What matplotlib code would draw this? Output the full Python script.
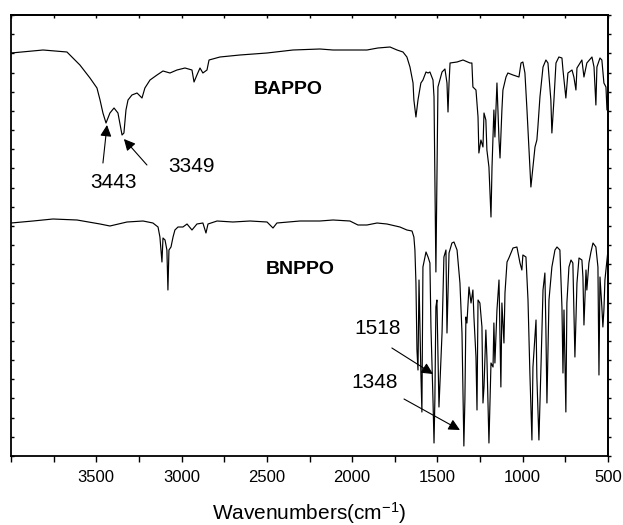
import numpy as np
import matplotlib.pyplot as plt
import matplotlib as mpl
from matplotlib.ticker import MultipleLocator, FixedLocator, NullFormatter

mpl.rc('font', family='Liberation Sans', size=12)
mpl.rc('mathtext', fontset='custom', rm='Liberation Sans', it='Liberation Sans')

# IR spectra, wavenumber (cm-1) vs transmittance (arbitrary units)
bappo_wn = [4000, 3812, 3672, 3596, 3537, 3496, 3478, 3461, 3443, 3420, 3396, 3373, 3349, 3338,
            3326, 3314, 3291, 3261, 3232, 3215, 3185, 3144, 3109, 3068, 3027, 2980, 2939, 2927,
            2910, 2892, 2875, 2851, 2839, 2775, 2658, 2499, 2347, 2189, 2112, 1913, 1849, 1778,
            1737, 1702, 1679, 1661, 1643, 1638, 1626, 1614, 1597, 1585, 1567, 1555, 1544, 1526,
            1520, 1509, 1497, 1473, 1456, 1444, 1438, 1432, 1426, 1385, 1350, 1309, 1298, 1292,
            1274, 1262, 1257, 1245, 1233, 1227, 1216, 1210, 1198, 1186, 1180, 1169, 1163, 1151,
            1139, 1133, 1122, 1116, 1098, 1087, 1057, 1022, 1010, 999, 987, 975, 958, 952, 940,
            928, 917, 911, 899, 881, 864, 852, 835, 829, 817, 805, 788, 770, 764, 747, 735, 711,
            700, 688, 682, 653, 641, 624, 594, 582, 571, 565, 547, 536, 524, 512, 506, 500]
bappo_t = [403, 406, 404, 391, 378, 368, 356, 343, 333, 343, 348, 343, 321, 323,
           346, 356, 361, 363, 358, 368, 376, 381, 385, 383, 386, 388, 386, 374,
           381, 388, 383, 386, 396, 399, 401, 403, 406, 407, 406, 406, 408, 409,
           406, 404, 399, 389, 373, 356, 339, 356, 373, 376, 384, 383, 384, 376,
           359, 184, 369, 384, 387, 373, 344, 373, 393, 394, 396, 393, 393, 369,
           366, 339, 303, 316, 309, 343, 336, 306, 289, 239, 289, 346, 319, 373,
           316, 298, 346, 366, 379, 383, 381, 379, 393, 394, 383, 346, 289, 269, 289,
           309, 316, 329, 359, 389, 396, 393, 356, 323, 356, 393, 399, 398, 386, 358, 383, 386,
           379, 366, 388, 396, 379, 393, 399, 389, 351, 389, 398, 396, 373, 369, 346, 350]

bnppo_wn = [4000, 3871, 3754, 3613, 3478, 3420, 3320, 3226, 3168, 3138, 3127, 3115, 3109, 3097,
            3086, 3080, 3074, 3062, 3050, 3039, 3021, 2992, 2968, 2939, 2910, 2875, 2857, 2845,
            2792, 2699, 2599, 2499, 2464, 2441, 2306, 2189, 2112, 2013, 1966, 1913, 1854, 1796,
            1720, 1679, 1649, 1638, 1632, 1626, 1620, 1614, 1608, 1597, 1591, 1585, 1567, 1555,
            1544, 1538, 1526, 1520, 1515, 1509, 1503, 1491, 1473, 1462, 1450, 1444, 1432, 1415,
            1403, 1385, 1368, 1356, 1345, 1339, 1333, 1327, 1315, 1303, 1292, 1286, 1274, 1268,
            1262, 1251, 1239, 1233, 1227, 1216, 1210, 1198, 1186, 1174, 1169, 1163, 1151, 1139,
            1128, 1122, 1110, 1104, 1092, 1081, 1057, 1034, 1016, 1005, 999, 981, 969, 958, 946,
            940, 922, 917, 905, 893, 881, 870, 864, 858, 846, 829, 811, 799, 782, 770, 764, 758,
            747, 741, 729, 717, 706, 694, 682, 670, 653, 647, 641, 629, 624, 612, 600, 588, 571,
            559, 553, 547, 536, 530, 524, 518, 506, 500]
bnppo_t = [233, 235, 237, 236, 232, 230, 234, 235, 233, 229, 219, 194, 218, 216,
           206, 166, 206, 209, 219, 226, 229, 229, 232, 226, 232, 233, 223, 232,
           235, 234, 235, 234, 228, 233, 235, 235, 236, 235, 231, 231, 233, 232,
           229, 226, 225, 219, 206, 173, 106, 86, 176, 83, 44, 189, 204, 199,
           193, 129, 56, 13, 56, 149, 156, 49, 123, 199, 206, 123, 203, 213,
           214, 206, 173, 123, 10, 56, 139, 133, 169, 153, 166, 139, 99, 46,
           156, 153, 129, 53, 69, 126, 99, 13, 93, 89, 133, 93, 146, 176,
           69, 153, 113, 163, 194, 198, 208, 209, 193, 186, 201, 199, 156, 83, 16,
           89, 136, 79, 16, 89, 166, 183, 126, 53, 156, 189, 206, 209, 206, 149, 83, 146,
           44, 153, 189, 196, 193, 99, 173, 198, 196, 179, 131, 186, 166, 193, 204, 213, 209,
           189, 81, 179, 149, 129, 146, 176, 196, 206]

labels = ['BAPPO', 'BNPPO']
label_pos = [(2376, 366), (2306, 187)]

peak_labels = ['3443', '3349', '1518', '1348']
peak_text_pos = [(3402, 274), (2939, 289), (1849, 128), (1866, 73)]
arrow_tail = [(3461, 293), (3203, 291), (1767, 108), (1696, 57)]
arrow_tip = [(3437, 331), (3338, 317), (1526, 82), (1368, 26)]

xtick_labels = [3500, 3000, 2500, 2000, 1500, 1000, 500]

fig = plt.figure(figsize=(6.23, 5.25), dpi=100)
ax = fig.add_axes([11/623, 1 - 456/525, 597/623, 441/525])

ax.plot(bappo_wn, bappo_t, color='black', lw=0.85)
ax.plot(bnppo_wn, bnppo_t, color='black', lw=0.85)

ax.set_xlim(4000, 500)
ax.set_ylim(0, 441)

for lab, (x, y) in zip(labels, label_pos):
    ax.text(x, y, lab, ha='center', va='center', fontsize=14, fontweight='bold')

for lab, (x, y) in zip(peak_labels, peak_text_pos):
    ax.text(x, y, lab, ha='center', va='center', fontsize=15)

for tail, tip in zip(arrow_tail, arrow_tip):
    ax.annotate('', xy=tip, xytext=tail,
                arrowprops=dict(arrowstyle='-|>', color='black', lw=0.8,
                                mutation_scale=17, shrinkA=0, shrinkB=0))

ax.set_xlabel(r'Wavenumbers(cm$^{-1}$)', fontsize=15, labelpad=11)

ax.xaxis.set_major_locator(FixedLocator(xtick_labels))
ax.xaxis.set_minor_locator(MultipleLocator(250))
ax.yaxis.set_major_locator(MultipleLocator(441 / 23))
ax.yaxis.set_major_formatter(NullFormatter())

ax.tick_params(axis='x', which='both', direction='out', length=4, width=1, top=False)
ax.tick_params(axis='x', which='major', labelsize=12, pad=6)
ax.tick_params(axis='y', which='both', direction='in', length=2, width=1, right=False)

# top and right axis ticks
tax = ax.secondary_xaxis('top')
tax.xaxis.set_major_locator(MultipleLocator(250))
tax.xaxis.set_major_formatter(NullFormatter())
tax.tick_params(direction='in', length=2, width=1)
rax = ax.secondary_yaxis('right')
rax.yaxis.set_major_locator(MultipleLocator(441 / 23))
rax.yaxis.set_major_formatter(NullFormatter())
rax.tick_params(direction='out', length=2, width=1)

for s in ax.spines.values():
    s.set_linewidth(1.3)
tax.spines['top'].set_linewidth(1.3)
rax.spines['right'].set_linewidth(1.3)

fig.savefig('out.png', dpi=100)
